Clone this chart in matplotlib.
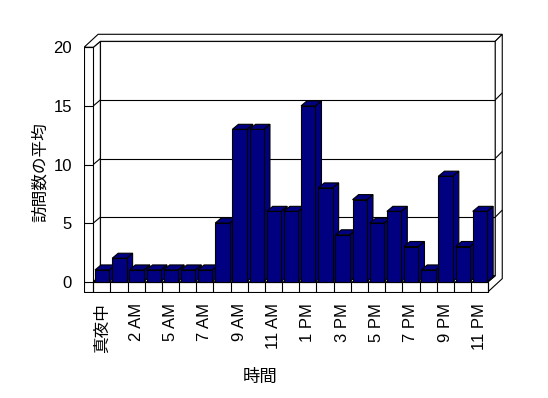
import matplotlib
matplotlib.use("Agg")
import matplotlib.pyplot as plt
from matplotlib.patches import Polygon

# ---- data ----
hours = ["真夜中", "1 AM", "2 AM", "4 AM", "5 AM", "6 AM", "7 AM", "8 AM", "9 AM",
         "10 AM", "11 AM", "12 PM", "1 PM", "2 PM", "3 PM", "4 PM", "5 PM", "6 PM",
         "7 PM", "8 PM", "9 PM", "10 PM", "11 PM"]
visits = [1, 2, 1, 1, 1, 1, 1, 5, 13, 13, 6, 6, 15, 8, 4, 7, 5, 6, 3, 1, 9, 3, 6]
y_ticks = [0, 5, 10, 15, 20]
y_label = "訪問数の平均"
x_label = "時間"

# ---- style / geometry ----
N = len(visits)
YMAX = 20
dx, dy = 0.41, 0.51        # depth from front plane to back wall
bdx, bdy = 0.35, 0.43      # bar depth
btx, bty = 0.41, 0.60      # back wall thickness
wt = 0.54                  # left wall thickness
ft = 0.85                  # floor thickness
navy = "#000080"
lw = 0.8

plt.rcParams['font.family'] = ['Liberation Sans', 'Noto Sans CJK JP', 'DejaVu Sans']

fig = plt.figure(figsize=(5.48, 3.98), dpi=100)
ax = fig.add_axes([84/548, (398-293)/398, (505-84)/548, (293-30)/398])
ax.set_xlim(-0.542, 23.98)
ax.set_ylim(-0.964, 21.476)
for s in ax.spines.values():
    s.set_visible(False)


def poly(pts, fc="white", z=1):
    ax.add_patch(Polygon(pts, closed=True, facecolor=fc, edgecolor="black",
                         linewidth=lw, zorder=z, joinstyle="miter"))


def line(xs, ys, z=2):
    ax.plot(xs, ys, color="black", linewidth=lw, zorder=z, solid_capstyle="butt")


# back wall inner face
poly([(dx, dy), (N + dx, dy), (N + dx, YMAX + dy), (dx, YMAX + dy)])
# left wall inner face
poly([(0, 0), (dx, dy), (dx, YMAX + dy), (0, YMAX)])
# top face (left wall + back wall thickness)
poly([(-wt, YMAX), (0, YMAX), (dx, YMAX + dy), (N + dx, YMAX + dy),
      (N + dx + btx, YMAX + dy + bty), (-wt + dx + btx, YMAX + dy + bty)])
# right side (floor side + back wall side)
poly([(N, 0), (N, -ft), (N + dx + btx, -ft + dy + bty),
      (N + dx + btx, YMAX + dy + bty), (N + dx, YMAX + dy), (N + dx, dy)])
# floor top
poly([(0, 0), (N, 0), (N + dx, dy), (dx, dy)])
# floor front face
poly([(-wt, -ft), (N, -ft), (N, 0), (-wt, 0)])
# left wall front face
poly([(-wt, -ft), (0, -ft), (0, YMAX), (-wt, YMAX)])

# gridlines and ticks
for v in y_ticks:
    if 0 < v < YMAX:
        line([dx, N + dx], [v + dy, v + dy])
        line([0, dx], [v, v + dy])
        line([N + dx, N + dx + btx], [v + dy, v + dy + bty])
    line([-wt, 0], [v, v])

# floor cell dividers
for i in range(N + 1):
    line([i, i], [-ft, 0])

# bars
for i, v in enumerate(visits):
    x0, x1 = i + 0.1, i + 0.94
    z = 5 + i
    poly([(x1, 0), (x1 + bdx, bdy), (x1 + bdx, v + bdy), (x1, v)], fc=navy, z=z)
    poly([(x0, v), (x1, v), (x1 + bdx, v + bdy), (x0 + bdx, v + bdy)], fc=navy, z=z)
    poly([(x0, 0), (x1, 0), (x1, v), (x0, v)], fc=navy, z=z)

# ticks / labels
ax.set_yticks(y_ticks)
ax.set_yticklabels([str(t) for t in y_ticks], fontsize=12)
ax.set_xticks([i + 0.5 for i in range(0, N, 2)])
ax.set_xticklabels([hours[i] for i in range(0, N, 2)], rotation=90, fontsize=12)
ax.tick_params(axis="y", length=0, pad=8.6)
ax.tick_params(axis="x", length=0, pad=7.2)

fig.text(40/548, 1 - 172/398, y_label, rotation=90, ha="center", va="center",
         fontsize=12, family=['Noto Sans CJK JP'])
fig.text(260/548, 1 - 377/398, x_label, ha="center", va="center",
         fontsize=12.5, family=['Noto Sans CJK JP'])

fig.savefig("out.png", dpi=100, facecolor="white")
